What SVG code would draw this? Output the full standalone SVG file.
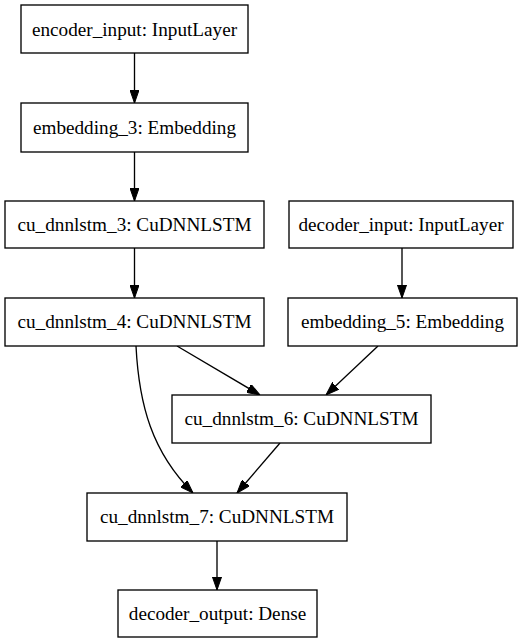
<svg xmlns="http://www.w3.org/2000/svg" width="522" height="644" viewBox="0 0 522 644">
<style>
.n rect{fill:#fff;stroke:#000;stroke-width:1.33}
.n text{font-family:"Liberation Serif","Times New Roman",serif;font-size:19.2px;text-anchor:middle;fill:#000}
.e path{fill:none;stroke:#000;stroke-width:1.33}
</style>
<defs>
<marker id="a" viewBox="0 0 13.33 9.33" refX="13.33" refY="4.67" markerWidth="13.33" markerHeight="9.33" markerUnits="userSpaceOnUse" orient="auto"><path d="M0,0 L13.33,4.67 L0,9.33 z" fill="#000" stroke="#000" stroke-width="1"/></marker>
</defs>
<rect width="522" height="644" fill="#fff"/>
<g class="e" id="edges">
<path d="M134.5,53 L134.5,103" marker-end="url(#a)"/>
<path d="M134.5,152 L134.5,201" marker-end="url(#a)"/>
<path d="M134.5,248 L134.5,298" marker-end="url(#a)"/>
<path d="M402,248 L402,298" marker-end="url(#a)"/>
<path d="M177,346 L260,395" marker-end="url(#a)"/>
<path d="M378,346 L326,395" marker-end="url(#a)"/>
<path d="M136,346 C139,405 152,452 193,493" marker-end="url(#a)"/>
<path d="M280,443 L237,493" marker-end="url(#a)"/>
<path d="M217,541 L217,590" marker-end="url(#a)"/>
</g>
<g class="n" id="encoder_input"><rect x="21" y="5" width="227" height="48"/><text x="134.5" y="35.5">encoder_input: InputLayer</text></g>
<g class="n" id="embedding_3"><rect x="21" y="103" width="227" height="49"/><text x="134.5" y="133.5">embedding_3: Embedding</text></g>
<g class="n" id="cu_dnnlstm_3"><rect x="5" y="201" width="259" height="47"/><text x="134.5" y="230.5">cu_dnnlstm_3: CuDNNLSTM</text></g>
<g class="n" id="decoder_input"><rect x="289" y="201" width="224" height="47"/><text x="401" y="230.5">decoder_input: InputLayer</text></g>
<g class="n" id="cu_dnnlstm_4"><rect x="5" y="298" width="259" height="48"/><text x="134.5" y="328">cu_dnnlstm_4: CuDNNLSTM</text></g>
<g class="n" id="embedding_5"><rect x="288" y="298" width="229" height="48"/><text x="402.5" y="328">embedding_5: Embedding</text></g>
<g class="n" id="cu_dnnlstm_6"><rect x="172" y="395" width="259" height="48"/><text x="301.5" y="425">cu_dnnlstm_6: CuDNNLSTM</text></g>
<g class="n" id="cu_dnnlstm_7"><rect x="87" y="493" width="260" height="48"/><text x="217" y="523">cu_dnnlstm_7: CuDNNLSTM</text></g>
<g class="n" id="decoder_output"><rect x="118" y="590" width="199" height="47"/><text x="217.5" y="619.5">decoder_output: Dense</text></g>
</svg>
